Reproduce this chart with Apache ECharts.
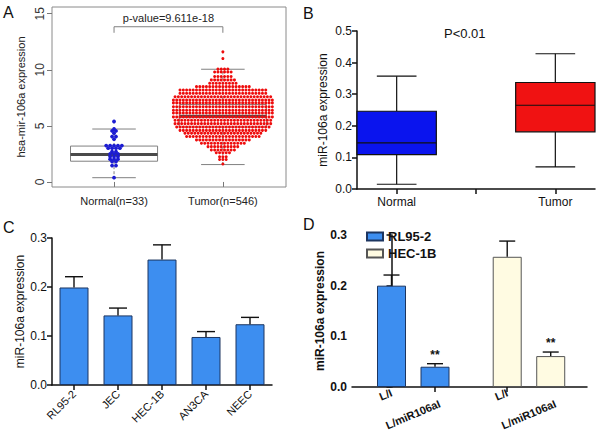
<!DOCTYPE html>
<html><head><meta charset="utf-8">
<script src="https://cdn.jsdelivr.net/npm/echarts@6/dist/echarts.min.js"></script>
<style>html,body{margin:0;padding:0;background:#fff}#c{width:600px;height:439px}</style>
</head><body><div id="c"></div><script>
// ---------- Panel A (TCGA beeswarm + boxplot) ----------
const aCategories = ['Normal(n=33)', 'Tumor(n=546)'];
const aNormalLevels = [5.39, 4.72, 4.55, 4.35, 4.05, 3.81, 3.24, 3.01, 2.71, 2.50, 2.26, 2.03, 1.82, 1.46, 0.38];
const aNormalCounts = [1, 1, 2, 1, 2, 1, 5, 4, 2, 3, 3, 3, 2, 2, 1];
const aTumorLevels = [11.6, 11.0, 10.06, 9.8, 9.4, 9.1, 8.8, 8.5, 8.2, 7.9, 7.6, 7.3, 7.05, 6.7, 6.4, 6.15, 5.8, 5.5, 5.2, 4.9, 4.6, 4.35, 4.05, 3.75, 3.45, 3.15, 2.85, 2.6, 2.25, 2.0, 1.6];
const aTumorCounts = [1, 1, 4, 6, 6, 8, 9, 17, 27, 27, 30, 31, 31, 31, 31, 31, 31, 30, 30, 29, 27, 24, 23, 17, 14, 10, 8, 5, 3, 3, 1];
const aNormalBox = [0.38, 1.85, 2.45, 3.2, 4.72];   // min, q1, median, q3, max
const aTumorBox = [1.55, 4.9, 5.85, 6.9, 10.05];
const aYTicks = [0, 5, 10, 15];
const aPValueText = 'p-value=9.611e-18';
const aBracketLow = 13.3, aBracketHigh = 13.84, aPTextY = 14.6;

// ---------- Panel B (qPCR tissue boxplot) ----------
const bCategories = ['Normal', '', 'Tumor'];
const bNormalBox = [0.015, 0.109, 0.146, 0.246, 0.357];
const bTumorBox = [0.070, 0.181, 0.265, 0.337, 0.428];
const bPText = 'P<0.01';

// ---------- Panel C (cell lines) ----------
const cCategories = ['RL95-2', 'JEC', 'HEC-1B', 'AN3CA', 'NEEC'];
const cMeans = [0.199, 0.142, 0.256, 0.098, 0.124];
const cErrors = [0.022, 0.015, 0.030, 0.011, 0.014];

// ---------- Panel D (inhibitor) ----------
const dGroups = ['RL95-2', 'HEC-1B'];
const dConditions = ['L/I', 'L/miR106aI'];
const dRL952Means = [0.200, 0.040];
const dRL952Errors = [0.021, 0.006];
const dHEC1BMeans = [0.257, 0.061];
const dHEC1BErrors = [0.031, 0.008];
const dSignificance = ['', '**'];

// ---------- layout helpers ----------
const FF = '"Liberation Sans", Arial, Helvetica, sans-serif';
function swarm(center, levels, counts, step) {
  const pts = [];
  levels.forEach((lv, k) => {
    const n = counts[k];
    for (let i = 0; i < n; i++) pts.push([center + (i - (n - 1) / 2) * step, lv]);
  });
  return pts;
}
const dGroupStep = 2.66;
const dPositions = [];
dGroups.forEach((g, gi) => dConditions.forEach((c, ci) => dPositions.push(gi * dGroupStep + ci)));
function dIndex(v) { let b = 0; dPositions.forEach((p, i) => { if (Math.abs(p - v) < Math.abs(dPositions[b] - v)) b = i; }); return b; }

function boxRenderer(widthUnits, opt) {
  return function (params, api) {
    const x = api.value(0);
    const vals = [1, 2, 3, 4, 5].map(i => api.coord([x, api.value(i)]));
    const w = api.size([widthUnits, 0])[0];
    const cx = vals[2][0];
    const cap = w * opt.cap / 2;
    const ls = { stroke: opt.line, lineWidth: opt.lw, lineDash: opt.dash };
    const ks = { stroke: opt.line, lineWidth: opt.lw };
    return {
      type: 'group', children: [
        { type: 'line', shape: { x1: cx, y1: vals[3][1], x2: cx, y2: vals[4][1] }, style: ls },
        { type: 'line', shape: { x1: cx, y1: vals[1][1], x2: cx, y2: vals[0][1] }, style: ls },
        { type: 'line', shape: { x1: cx - cap, y1: vals[4][1], x2: cx + cap, y2: vals[4][1] }, style: ks },
        { type: 'line', shape: { x1: cx - cap, y1: vals[0][1], x2: cx + cap, y2: vals[0][1] }, style: ks },
        { type: 'rect', shape: { x: cx - w / 2, y: vals[3][1], width: w, height: vals[1][1] - vals[3][1] },
          style: { fill: opt.fill[params.dataIndex], stroke: opt.border, lineWidth: opt.lw } },
        { type: 'line', shape: { x1: cx - w / 2, y1: vals[2][1], x2: cx + w / 2, y2: vals[2][1] },
          style: { stroke: opt.median, lineWidth: opt.mw } }
      ]
    };
  };
}
function errRenderer(capPx, sig) {
  return function (params, api) {
    const x = api.value(0), v = api.value(1), e = api.value(2);
    const p0 = api.coord([x, v]), p1 = api.coord([x, v + e]);
    const st = { stroke: '#111', lineWidth: 1.4 };
    const ch = [
      { type: 'line', shape: { x1: p0[0], y1: p0[1], x2: p1[0], y2: p1[1] }, style: st },
      { type: 'line', shape: { x1: p1[0] - capPx / 2, y1: p1[1], x2: p1[0] + capPx / 2, y2: p1[1] }, style: st }
    ];
    if (sig && sig[params.dataIndex]) {
      ch.push({ type: 'text', style: { text: sig[params.dataIndex], x: p1[0], y: p1[1] - 3, align: 'center', verticalAlign: 'bottom',
        fontSize: 12, fontWeight: 'bold', fontFamily: FF, fill: '#111' } });
    }
    return { type: 'group', children: ch };
  };
}

const blackAxis = { show: true, lineStyle: { color: '#111', width: 1.5 } };
const blackTick = { show: true, length: 5, lineStyle: { color: '#111', width: 1.5 } };

const option = {
  animation: false,
  backgroundColor: '#fff',
  textStyle: { fontFamily: FF },
  title: [
    { text: 'A', left: 3, top: 4, padding: 0, textStyle: { fontSize: 16, fontWeight: 'normal', color: '#111', fontFamily: FF } },
    { text: 'B', left: 303, top: 5, padding: 0, textStyle: { fontSize: 16, fontWeight: 'normal', color: '#111', fontFamily: FF } },
    { text: 'C', left: 3, top: 219, padding: 0, textStyle: { fontSize: 16, fontWeight: 'normal', color: '#111', fontFamily: FF } },
    { text: 'D', left: 303, top: 216, padding: 0, textStyle: { fontSize: 16, fontWeight: 'normal', color: '#111', fontFamily: FF } },
    { text: bPText, left: 444, top: 27, padding: 0, textStyle: { fontSize: 13, fontWeight: 'normal', color: '#111', fontFamily: FF } }
  ],
  legend: {
    data: dGroups, orient: 'vertical', left: 366, top: 230, itemWidth: 16, itemHeight: 8, itemGap: 4, padding: 0,
    icon: 'rect', textStyle: { fontSize: 13, fontWeight: 'bold', color: '#111', fontFamily: FF }
  },
  grid: [
    { left: 52, top: 7, width: 234, height: 180, show: true, borderColor: '#8a8a8a', borderWidth: 1, backgroundColor: 'transparent', outerBoundsMode: 'none', containLabel: false },
    { left: 357, top: 31, width: 238, height: 158, outerBoundsMode: 'none', containLabel: false },
    { left: 52, top: 238, width: 220, height: 147, outerBoundsMode: 'none', containLabel: false },
    { left: 352, top: 235, width: 235, height: 152, outerBoundsMode: 'none', containLabel: false }
  ],
  xAxis: [
    { gridIndex: 0, type: 'value', min: 0.43, max: 2.58, axisLine: { show: false }, splitLine: { show: false },
      axisTick: { show: true, length: 5, customValues: [1, 2], lineStyle: { color: '#777' } },
      axisLabel: { customValues: [1, 2], formatter: v => aCategories[Math.round(v) - 1], fontSize: 11, color: '#222', margin: 8, fontFamily: FF } },
    { gridIndex: 1, type: 'category', data: bCategories, boundaryGap: true, axisLine: blackAxis,
      axisTick: Object.assign({ alignWithLabel: true, interval: 0 }, blackTick),
      axisLabel: { interval: 0, fontSize: 12, color: '#111', margin: 7, fontFamily: FF }, splitLine: { show: false } },
    { gridIndex: 2, type: 'category', data: cCategories, boundaryGap: true, axisLine: blackAxis,
      axisTick: Object.assign({ alignWithLabel: true, interval: 0 }, blackTick),
      axisLabel: { interval: 0, rotate: 45, fontSize: 11, color: '#111', margin: 7, fontFamily: FF }, splitLine: { show: false } },
    { gridIndex: 3, type: 'value', min: -0.908, max: 4.494, axisLine: blackAxis, splitLine: { show: false },
      axisTick: Object.assign({ customValues: [dPositions[1], dPositions[2]] }, blackTick),
      axisLabel: { customValues: dPositions, rotate: 23, margin: 5, color: '#111', fontFamily: FF,
        formatter: v => { const i = dIndex(v); return (i % 2 === 0 ? '{s|' : '{l|') + dConditions[i % 2] + '}'; },
        rich: { s: { fontSize: 11, fontWeight: 'bold', color: '#111', fontFamily: FF },
                l: { fontSize: 11, fontWeight: 'bold', color: '#111', fontFamily: FF, padding: [24, 0, 0, 0] } } } }
  ],
  yAxis: [
    { gridIndex: 0, type: 'value', min: -0.45, max: 15.6, axisLine: { show: false }, splitLine: { show: false },
      name: 'hsa-mir-106a expression', nameLocation: 'middle', nameGap: 26, nameTextStyle: { fontSize: 11, color: '#222', fontFamily: FF },
      axisTick: { show: true, length: 5, customValues: aYTicks, lineStyle: { color: '#777' } },
      axisLabel: { customValues: aYTicks, rotate: 90, fontSize: 12, color: '#333', margin: 6, fontFamily: FF } },
    { gridIndex: 1, type: 'value', min: 0, max: 0.5, interval: 0.1, axisLine: blackAxis, axisTick: blackTick, splitLine: { show: false },
      name: 'miR-106a expression', nameLocation: 'middle', nameGap: 28, nameTextStyle: { fontSize: 12, color: '#111', fontFamily: FF },
      axisLabel: { formatter: v => v.toFixed(1), fontSize: 12, color: '#111', margin: 5, fontFamily: FF } },
    { gridIndex: 2, type: 'value', min: 0, max: 0.3, interval: 0.1, axisLine: blackAxis, axisTick: blackTick, splitLine: { show: false },
      name: 'miR-106a expression', nameLocation: 'middle', nameGap: 24, nameTextStyle: { fontSize: 12, color: '#111', fontFamily: FF },
      axisLabel: { formatter: v => v.toFixed(1), fontSize: 12, color: '#111', margin: 5, fontFamily: FF } },
    { gridIndex: 3, type: 'value', min: 0, max: 0.3, interval: 0.1, axisLine: blackAxis, axisTick: blackTick, splitLine: { show: false },
      name: 'miR-106a expression', nameLocation: 'middle', nameGap: 24, nameTextStyle: { fontSize: 12, fontWeight: 'bold', color: '#111', fontFamily: FF },
      axisLabel: { formatter: v => v.toFixed(1), fontSize: 12, fontWeight: 'bold', color: '#111', margin: 5, fontFamily: FF } }
  ],
  series: [
    { type: 'custom', name: 'A-box', xAxisIndex: 0, yAxisIndex: 0, z: 1,
      encode: { x: 0, y: [1, 2, 3, 4, 5] },
      data: [[1].concat(aNormalBox), [2].concat(aTumorBox)],
      renderItem: boxRenderer(0.8, { cap: 0.5, line: '#808080', lw: 1, dash: [3, 2], border: '#808080', fill: ['#fff', '#fff'], median: '#4a4a4a', mw: 3 }) },
    { type: 'custom', name: 'A-bracket', xAxisIndex: 0, yAxisIndex: 0, z: 2,
      encode: { x: [0, 1], y: [2, 3] },
      data: [[1, 2, aBracketLow, aBracketHigh]],
      renderItem: function (params, api) {
        const a = api.coord([api.value(0), api.value(2)]), b = api.coord([api.value(0), api.value(3)]);
        const c = api.coord([api.value(1), api.value(3)]), d = api.coord([api.value(1), api.value(2)]);
        const t = api.coord([(api.value(0) + api.value(1)) / 2, aPTextY]);
        return { type: 'group', children: [
          { type: 'polyline', shape: { points: [a, b, c, d] }, style: { stroke: '#808080', lineWidth: 1, fill: null } },
          { type: 'text', style: { text: aPValueText, x: t[0], y: t[1], align: 'center', verticalAlign: 'middle', fontSize: 11, fontFamily: FF, fill: '#222' } }
        ] };
      } },
    { type: 'scatter', name: 'A-normal', xAxisIndex: 0, yAxisIndex: 0, z: 3, symbol: 'circle', symbolSize: 3.8,
      itemStyle: { color: '#1c1cd2', opacity: 1 }, data: swarm(1, aNormalLevels, aNormalCounts, 0.036) },
    { type: 'scatter', name: 'A-tumor', xAxisIndex: 0, yAxisIndex: 0, z: 3, symbol: 'circle', symbolSize: 3,
      itemStyle: { color: '#ee0d0d', opacity: 1 }, data: swarm(2, aTumorLevels, aTumorCounts, 0.0303) },
    { type: 'custom', name: 'B-box', xAxisIndex: 1, yAxisIndex: 1, z: 2,
      encode: { x: 0, y: [1, 2, 3, 4, 5] },
      data: [[0].concat(bNormalBox), [2].concat(bTumorBox)],
      renderItem: boxRenderer(0.67, { cap: 0.5, line: '#111', lw: 1.2, dash: null, border: '#111', fill: ['#0a14ee', '#f01212'], median: '#111', mw: 1.2 }) },
    { type: 'bar', name: 'C', xAxisIndex: 2, yAxisIndex: 2, barWidth: 29, data: cMeans,
      itemStyle: { color: '#3d8ef0', borderColor: '#1c3560', borderWidth: 1 } },
    { type: 'custom', name: 'C-err', xAxisIndex: 2, yAxisIndex: 2, z: 3, encode: { x: 0, y: [1, 2] },
      data: cMeans.map((m, i) => [i, m, cErrors[i]]), renderItem: errRenderer(18) },
    { type: 'bar', name: 'RL95-2', xAxisIndex: 3, yAxisIndex: 3, barWidth: 29, barGap: '-100%',
      data: dRL952Means.map((m, i) => [dPositions[i], m]),
      itemStyle: { color: '#3d8ef0', borderColor: '#1c3560', borderWidth: 1 } },
    { type: 'bar', name: 'HEC-1B', xAxisIndex: 3, yAxisIndex: 3, barWidth: 29, barGap: '-100%',
      data: dHEC1BMeans.map((m, i) => [dPositions[2 + i], m]),
      itemStyle: { color: '#fffbe2', borderColor: '#555', borderWidth: 1 } },
    { type: 'custom', name: 'D-err', xAxisIndex: 3, yAxisIndex: 3, z: 3, encode: { x: 0, y: [1, 2] },
      data: dRL952Means.map((m, i) => [dPositions[i], m, dRL952Errors[i]])
        .concat(dHEC1BMeans.map((m, i) => [dPositions[2 + i], m, dHEC1BErrors[i]])),
      renderItem: errRenderer(16, dSignificance.concat(dSignificance)) }
  ]
};
const chart = echarts.init(document.getElementById('c'), null, { renderer: 'svg', width: 600, height: 439 });
chart.setOption(option);
</script></body></html>
